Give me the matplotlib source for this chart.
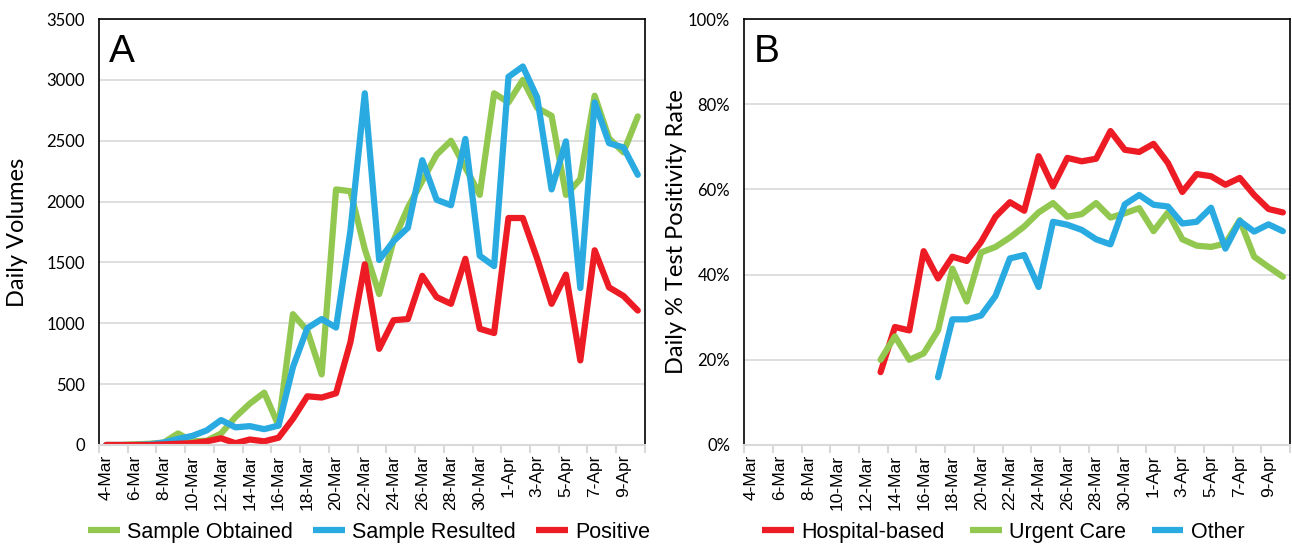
import numpy as np
import pandas as pd
import matplotlib
matplotlib.use("Agg")
import matplotlib.pyplot as plt

# Daily data, 4-Mar to 10-Apr
dates = pd.date_range("2020-03-04", "2020-04-10", freq="D")
date_labels = [f"{d.day}-{d.strftime('%b')}" for d in dates]

sample_obtained = [0, 0, 5, 10, 20, 95, 30, 35, 95, 230, 340, 430, 160, 1075, 940, 580,
                   2100, 2085, 1610, 1240, 1680, 1950, 2170, 2385, 2500, 2280, 2055, 2890,
                   2815, 3000, 2770, 2705, 2055, 2185, 2870, 2520, 2405, 2700]
sample_resulted = [0, 0, 0, 5, 20, 50, 75, 120, 205, 145, 155, 130, 160, 640, 960, 1035,
                   965, 1760, 2890, 1520, 1675, 1785, 2340, 2015, 1970, 2515, 1555, 1470,
                   3025, 3110, 2855, 2100, 2495, 1290, 2815, 2480, 2445, 2220]
positive = [0, 0, 0, 0, 5, 10, 15, 30, 55, 15, 45, 30, 60, 215, 400, 390,
            425, 845, 1485, 790, 1025, 1035, 1390, 1215, 1160, 1530, 955, 920,
            1865, 1865, 1530, 1160, 1400, 695, 1600, 1295, 1225, 1105]

nan = np.nan
hospital = [nan] * 9 + [17.1, 27.7, 26.9, 45.5, 39.1, 44.2, 43.2, 47.7, 53.6, 57.0, 55.0,
                        67.8, 60.7, 67.4, 66.6, 67.2, 73.7, 69.3, 68.8, 70.7, 66.2, 59.4,
                        63.6, 63.1, 61.1, 62.7, 58.7, 55.4, 54.6]
urgent_care = [nan] * 9 + [20.0, 25.5, 20.0, 21.5, 26.9, 41.4, 33.7, 45.2, 46.5, 48.7, 51.3,
                           54.6, 56.8, 53.6, 54.2, 56.8, 53.4, 54.4, 55.6, 50.2, 54.6, 48.3,
                           46.8, 46.5, 47.3, 52.8, 44.2, 41.8, 39.5]
other = [nan] * 13 + [15.9, 29.5, 29.5, 30.4, 35.0, 43.8, 44.6, 37.1, 52.4, 51.7, 50.5,
                      48.3, 47.1, 56.5, 58.7, 56.4, 56.0, 52.0, 52.4, 55.7, 46.1, 52.6,
                      50.1, 51.8, 50.2]

GREEN = "#92C850"
BLUE = "#29ABE2"
RED = "#ED1C24"
GRID = "#D9D9D9"

x = np.arange(len(dates))

fig = plt.figure(figsize=(12.92, 5.44), dpi=100)
ax_a = fig.add_axes([0.0766, 0.182, 0.4226, 0.783])
ax_b = fig.add_axes([0.5759, 0.182, 0.4226, 0.783])

line_kw = dict(lw=4.5, solid_joinstyle="round", solid_capstyle="round")
legend_kw = dict(loc="center", ncol=3, frameon=False,
                 prop={"family": "Liberation Sans", "size": 15.5},
                 handlelength=1.45, handletextpad=0.35)


def style_axes(ax):
    ax.set_xlim(-0.5, len(dates) - 0.5)
    # tick marks sit between every second day, labels under the days
    ax.set_xticks(np.arange(-0.5, len(dates), 2))
    ax.set_xticklabels([])
    ax.set_xticks(x[::2], minor=True)
    ax.set_xticklabels(date_labels[::2], minor=True, rotation=90,
                       fontsize=12.5, family="Liberation Sans")
    ax.tick_params(axis="x", which="major", length=6, color=GRID, width=1.5)
    ax.tick_params(axis="x", which="minor", length=0, pad=7)
    ax.tick_params(axis="y", length=0, pad=10, labelsize=12)
    for lbl in ax.get_yticklabels():
        lbl.set_family("Lato")
    ax.grid(axis="y", color=GRID, linewidth=1.2)
    ax.set_axisbelow(True)
    for side in ("left", "top", "right"):
        ax.spines[side].set_color("black")
        ax.spines[side].set_linewidth(1.2)
    ax.spines["bottom"].set_color(GRID)
    ax.spines["bottom"].set_linewidth(1.5)


def flat_handles(leg):
    for h in leg.get_lines():
        h.set_solid_capstyle("butt")


# Panel A: daily volumes
ax_a.plot(x, sample_obtained, color=GREEN, label="Sample Obtained", **line_kw)
ax_a.plot(x, sample_resulted, color=BLUE, label="Sample Resulted", **line_kw)
ax_a.plot(x, positive, color=RED, label="Positive", **line_kw)
ax_a.set_ylim(0, 3500)
ax_a.set_yticks(range(0, 3501, 500))
style_axes(ax_a)
ax_a.set_ylabel("Daily Volumes", fontsize=17, family="Lato")
ax_a.yaxis.set_label_coords(-0.13, 0.5)
ax_a.text(0.018, 0.965, "A", transform=ax_a.transAxes, fontsize=28,
          family="Liberation Sans", va="top", ha="left")
flat_handles(ax_a.legend(bbox_to_anchor=(0.495, -0.205), columnspacing=0.95, **legend_kw))

# Panel B: positivity rate by site
ax_b.plot(x, hospital, color=RED, label="Hospital-based", **line_kw)
ax_b.plot(x, urgent_care, color=GREEN, label="Urgent Care", **line_kw)
ax_b.plot(x, other, color=BLUE, label="Other", **line_kw)
ax_b.set_ylim(0, 100)
ax_b.set_yticks(range(0, 101, 20))
ax_b.set_yticklabels([f"{v}%" for v in range(0, 101, 20)])
style_axes(ax_b)
ax_b.set_ylabel("Daily % Test Positivity Rate", fontsize=17, family="Lato")
ax_b.yaxis.set_label_coords(-0.104, 0.5)
ax_b.text(0.018, 0.965, "B", transform=ax_b.transAxes, fontsize=28,
          family="Liberation Sans", va="top", ha="left")
flat_handles(ax_b.legend(bbox_to_anchor=(0.475, -0.205), columnspacing=1.2, **legend_kw))

fig.savefig("out.png", dpi=100)
